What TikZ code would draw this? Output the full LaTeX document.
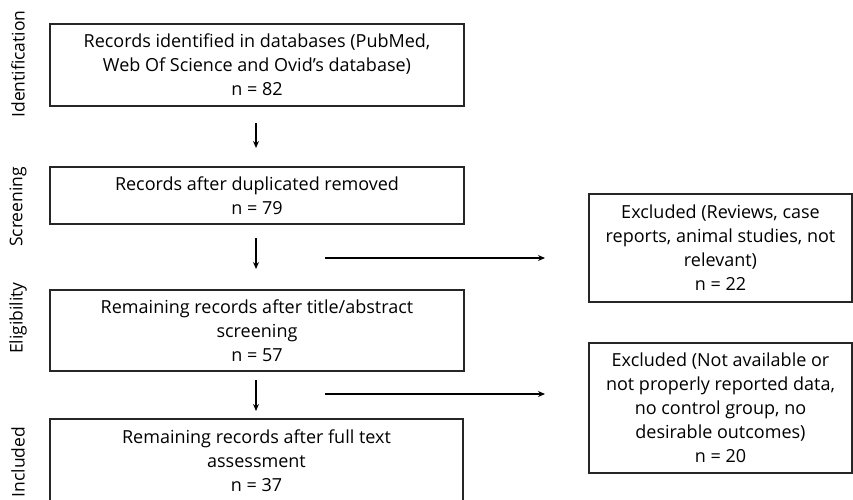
\documentclass[tikz,border=0pt]{standalone}
\usepackage{fontspec}
\setmainfont{Open Sans}
\usetikzlibrary{arrows.meta}
\begin{document}
\begin{tikzpicture}[x=1pt,y=-1pt,
  box/.style={draw=black!85, line width=1.6pt, align=center, inner sep=0pt, font=\fontsize{18}{24}\selectfont},
  side/.style={rotate=90, font=\fontsize{17.5}{20}\selectfont},
  arr/.style={line width=1.6pt, -{Stealth[length=7pt,width=6pt]}}]
\useasboundingbox (0,0) rectangle (853,500);
\node[box, minimum width=414pt, minimum height=82pt] (b1) at (257,65) {Records identified in databases (PubMed,\\Web Of Science and Ovid’s database)\\n = 82};
\node[box, minimum width=414pt, minimum height=57pt] (b2) at (257,195.5) {Records after duplicated removed\\n = 79};
\node[box, minimum width=414pt, minimum height=81pt] (b3) at (257,330.5) {Remaining records after title/abstract\\screening\\n = 57};
\node[box, minimum width=413pt, minimum height=84pt] (b4) at (256.5,461) {Remaining records after full text\\assessment\\n = 37};
\node[box, minimum width=263pt, minimum height=108pt] (e1) at (720.5,248) {Excluded (Reviews, case\\reports, animal studies, not\\relevant)\\n = 22};
\node[box, minimum width=263pt, minimum height=130pt] (e2) at (720.5,408) {Excluded (Not available or\\not properly reported data,\\no control group, no\\desirable outcomes)\\n = 20};
\node[side] (l1) at (18,64) {Identification};
\node[side] (l2) at (18,207) {Screening};
\node[side] (l3) at (18,318) {Eligibility};
\node[side] (l4) at (18,462) {Included};
\coordinate (a1s) at (256,123); \coordinate (a1e) at (256,148);
\coordinate (a2s) at (256,238); \coordinate (a2e) at (256,269);
\coordinate (a3s) at (256,380); \coordinate (a3e) at (256,411);
\coordinate (h1s) at (325,258); \coordinate (h1e) at (545,258);
\coordinate (h2s) at (325,394); \coordinate (h2e) at (545,394);
\draw[arr] (a1s) -- (a1e);
\draw[arr] (a2s) -- (a2e);
\draw[arr] (a3s) -- (a3e);
\draw[arr] (h1s) -- (h1e);
\draw[arr] (h2s) -- (h2e);
\end{tikzpicture}
\end{document}
